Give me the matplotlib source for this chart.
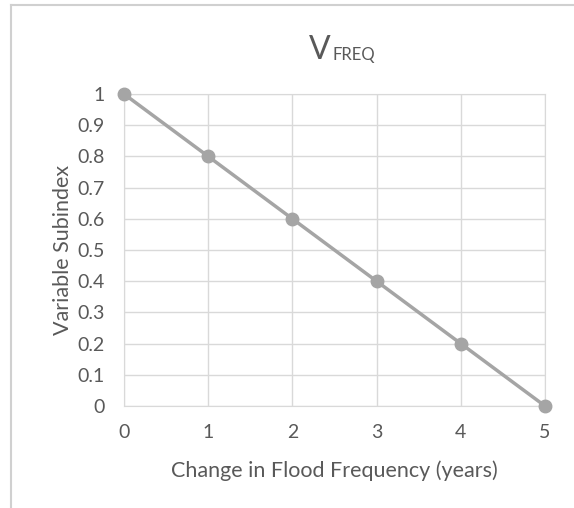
import matplotlib
matplotlib.use("Agg")
import matplotlib.pyplot as plt

# data
change_years = [0, 1, 2, 3, 4, 5]
subindex = [1.0, 0.8, 0.6, 0.4, 0.2, 0.0]
x_ticks = [0, 1, 2, 3, 4, 5]
y_ticks = [0, 0.1, 0.2, 0.3, 0.4, 0.5, 0.6, 0.7, 0.8, 0.9, 1]
y_labels = ["0", "0.1", "0.2", "0.3", "0.4", "0.5", "0.6", "0.7", "0.8", "0.9", "1"]

plt.rcParams['font.family'] = ['Lato', 'DejaVu Sans']
txt = "#595959"
grid = "#d9d9d9"
line = "#a5a5a5"

fig = plt.figure(figsize=(5.74, 5.08), dpi=100)

# chart area border (only top and left edges visible in the crop)
fig.add_artist(plt.Line2D([11/574, 1], [1 - 5/508, 1 - 5/508], color="#d0d0d0", lw=1.5))
fig.add_artist(plt.Line2D([11/574, 11/574], [0, 1 - 5/508], color="#d0d0d0", lw=1.5))

ax = fig.add_axes([124/574, 1 - 406/508, (545 - 124)/574, (406 - 94)/508])
ax.plot(change_years, subindex, color=line, lw=2.5, marker="o", ms=9,
        clip_on=False, zorder=3)

ax.set_xlim(0, 5)
ax.set_ylim(0, 1)
ax.set_xticks(x_ticks)
ax.set_yticks(y_ticks)
ax.set_yticklabels(y_labels)
ax.grid(True, color=grid, lw=1)
ax.set_axisbelow(True)
for s in ax.spines.values():
    s.set_color(grid)
ax.tick_params(length=0, colors=txt, labelsize=14)
ax.tick_params(axis="y", pad=14)
ax.tick_params(axis="x", pad=13)

ax.set_xlabel("Change in Flood Frequency (years)", color=txt, fontsize=15.5, labelpad=14)
ax.set_ylabel("Variable Subindex", color=txt, fontsize=15.5, labelpad=3)

fig.text(331/574, 1 - 59/508, "V", ha="right", va="baseline", color=txt, fontsize=23)
fig.text(332/574, 1 - 60/508, "FREQ", ha="left", va="baseline", color=txt, fontsize=12)

fig.savefig("out.png", dpi=100)
